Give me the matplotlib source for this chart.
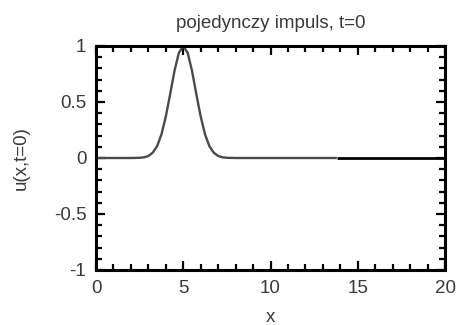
import matplotlib
matplotlib.use("Agg")
import matplotlib.pyplot as plt
from matplotlib.ticker import MultipleLocator

# single pulse u(x, t=0), sampled along x
x_pulse = [0.0, 1.0, 2.0, 2.5, 2.75, 3.0, 3.25, 3.5, 3.75, 4.0, 4.25, 4.5, 4.75,
           5.0, 5.25, 5.5, 5.75, 6.0, 6.25, 6.5, 6.75, 7.0, 7.25, 7.5, 8.0, 10.0, 13.8]
u_pulse = [0.0, 0.0, 0.0, 0.002, 0.006, 0.018, 0.047, 0.105, 0.21, 0.37, 0.57, 0.78, 0.94,
           1.0, 0.94, 0.78, 0.57, 0.37, 0.21, 0.105, 0.047, 0.018, 0.006, 0.002, 0.0, 0.0, 0.0]

# rest of the domain, still at rest
x_tail = [13.8, 20.0]
u_tail = [0.0, 0.0]

title = "pojedynczy impuls, t=0"
xlabel = "x"
ylabel = "u(x,t=0)"
xticks = [0, 5, 10, 15, 20]
yticks = [-1, -0.5, 0, 0.5, 1]
ytick_labels = ["-1", "-0.5", "0", "0.5", "1"]

plt.rcParams["font.family"] = ["Liberation Sans", "DejaVu Sans"]
txt = "#3a3a3a"
fs = 13.5

fig = plt.figure(figsize=(4.61, 3.25), dpi=100)
ax = fig.add_axes([96 / 461, 1 - 270 / 325, 349 / 461, 224 / 325])

ax.plot(x_pulse, u_pulse, color="#4a4a4a", linewidth=1.7, solid_capstyle="butt")
ax.plot(x_tail, u_tail, color="black", linewidth=2.0, solid_capstyle="butt")

ax.set_xlim(0, 20)
ax.set_ylim(-1, 1)
ax.set_xticks(xticks)
ax.set_xticklabels([str(t) for t in xticks])
ax.set_yticks(yticks)
ax.set_yticklabels(ytick_labels)
ax.xaxis.set_minor_locator(MultipleLocator(1))
ax.yaxis.set_minor_locator(MultipleLocator(0.1))

for s in ax.spines.values():
    s.set_linewidth(2.2)
ax.tick_params(which="both", direction="in", top=True, right=True,
               width=1.6, labelsize=fs, labelcolor=txt, color="black")
ax.tick_params(which="major", length=6.5, pad=7)
ax.tick_params(which="minor", length=4)

ax.set_title(title, fontsize=fs, color=txt, pad=13)
ax.set_xlabel(xlabel, fontsize=fs, color=txt, labelpad=8.5)
ax.set_ylabel(ylabel, fontsize=fs, color=txt, labelpad=17)

fig.savefig("out.png", dpi=100)
